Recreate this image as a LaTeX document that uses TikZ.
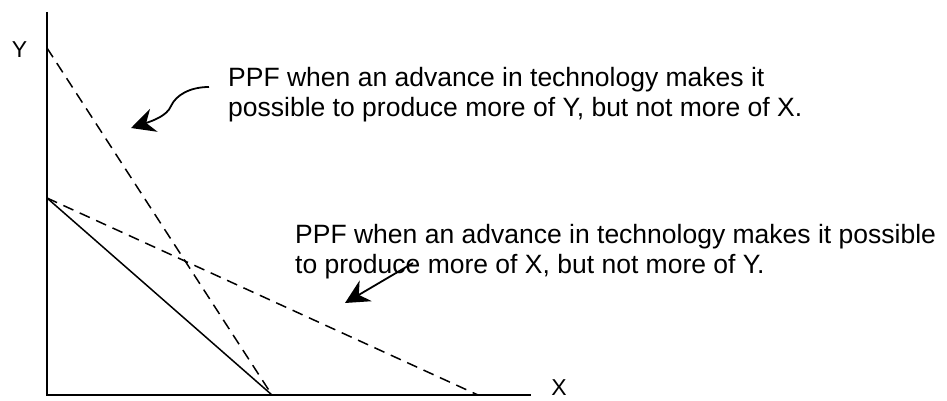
\documentclass[tikz,border=0pt]{standalone}
\usepackage{fontspec}
\setmainfont{Liberation Sans}
\usetikzlibrary{arrows.meta}
\begin{document}
\begin{tikzpicture}[x=1pt,y=-1pt,
  axis/.style={line width=1.6pt},
  ppf/.style={line width=1.5pt},
  ppfdash/.style={line width=1.5pt,dash pattern=on 11pt off 7pt},
  pointer/.style={line width=1.8pt,-{Stealth[length=24pt,width=24pt,inset=8pt]}},
  lab/.style={font=\fontsize{23}{28}\selectfont,inner sep=0pt},
  note/.style={font=\fontsize{26.5}{30}\selectfont,align=left,inner sep=0pt,anchor=base west}]
\useasboundingbox (0,0) rectangle (947,401);
\coordinate (O) at (47,395);
\coordinate (Ytop) at (47,12);
\coordinate (Xend) at (531,395);
\coordinate (A) at (47,198);
\coordinate (B) at (272,395);
\coordinate (C) at (47,48);
\coordinate (D) at (478,395);
\draw[axis] (Ytop) -- (O) -- (Xend);
\node[lab] (ylab) at (19.5,50) {Y};
\node[lab] (xlab) at (559,387.5) {X};
\draw[ppf] (A) -- (B);
\draw[ppfdash] (C) -- (B);
\draw[ppfdash] (A) -- (D);
\node[note] (t1) at (228,117) {PPF when an advance in technology makes it\\possible to produce more of Y, but not more of X.};
\node[note] (t2) at (295,273) {PPF when an advance in technology makes it possible\\to produce more of X, but not more of Y.};
\coordinate (a1s) at (209,87);
\coordinate (a1e) at (131,128);
\coordinate (a2s) at (413,263);
\coordinate (a2e) at (345,303);
\draw[pointer] (a1s) .. controls (190,87) and (176,95) .. (171,106) .. controls (167,116) and (152,121) .. (a1e);
\draw[pointer] (a2s) -- (a2e);
\end{tikzpicture}
\end{document}
